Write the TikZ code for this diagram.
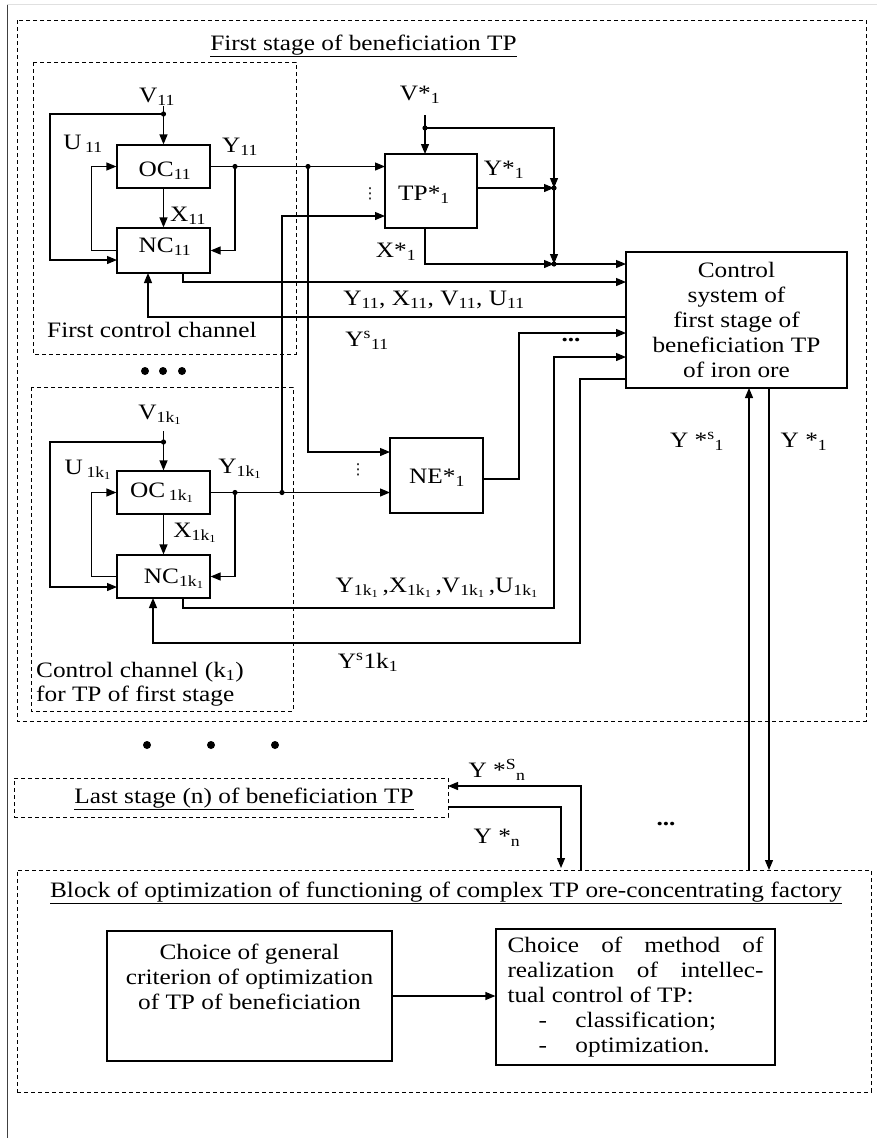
\documentclass[tikz,border=0pt]{standalone}
\usepackage{fontspec}
\setmainfont[FakeStretch=1.15]{Liberation Serif}
\newfontfamily\dvsans{DejaVu Sans}
\usetikzlibrary{arrows.meta,calc}
\newcommand{\sbs}[1]{\textsubscript{#1}}
\newcommand{\sps}[1]{\textsuperscript{#1}}
\newcommand{\kk}{\textsubscript{1k\textsubscript{1}}}
\begin{document}
\begin{tikzpicture}[x=1pt,y=-1pt,
  every node/.style={font=\fontsize{22}{25}\selectfont, inner sep=0pt},
  blk/.style={draw, line width=1.2pt},
  dbox/.style={draw, line width=1pt, dash pattern=on 4pt off 3pt},
  arr/.style={line width=1.2pt, -{Triangle[length=10pt,width=8pt]}},
  ln/.style={line width=1.2pt},
  lab/.style={anchor=base},
  vdot/.style={font=\dvsans\fontsize{15}{15}\selectfont},
]
\useasboundingbox (0,0) rectangle (877,1138);
% page lines
\draw[black!12, line width=1pt] (7,4.5) -- (877,4.5);
\draw[black!75, line width=1pt] (7,4.5) -- (7,1138);

% group frames
\draw[dbox] (17,20) rectangle (866,721);
\draw[dbox] (33,62) rectangle (296,354);
\draw[dbox] (31,387) rectangle (293,711);

% blocks
\node[blk, minimum width=93pt, minimum height=43pt] (oc1) at (163.5,166.5) {};
\node[blk, minimum width=93pt, minimum height=45pt] (nc1) at (163.5,250.5) {};
\node[blk, minimum width=93pt, minimum height=43pt] (oc2) at (163.5,492.5) {};
\node[blk, minimum width=93pt, minimum height=43pt] (nc2) at (163.5,576.5) {};
\node[blk, minimum width=92pt, minimum height=74pt] (tp) at (431,191) {};
\node[blk, minimum width=93pt, minimum height=75pt] (ne) at (436.5,475.5) {};
\node[blk, minimum width=221pt, minimum height=136pt, align=center] (cs) at (736.5,320)
  {Control\\system of\\first stage of\\beneficiation TP\\of iron ore};
\node[dbox, minimum width=434pt, minimum height=39pt] (ls) at (231,797.5) {};
\node[dbox, minimum width=854pt, minimum height=222pt] (bb) at (444,981) {};
\node[blk, minimum width=285pt, minimum height=130pt] (lc) at (249.5,996) {};
\node[blk, minimum width=279pt, minimum height=136pt, align=left] (rc) at (635.5,997)
  {\makebox[256pt][s]{Choice of method of}\\
   \makebox[256pt][s]{realization of intellec-}\\
   tual control of TP:\\
   \makebox[68pt][l]{\hspace*{31pt}-}classification;\\
   \makebox[68pt][l]{\hspace*{31pt}-}optimization.};

% box labels
\node[lab] (toc1) at (165,176) {OC\sbs{11}};
\node[lab] (tnc1) at (165,252) {NC\sbs{11}};
\node[lab] (toc2) at (162,497) {OC\,\kk};
\node[lab] (tnc2) at (174,583) {NC\kk};
\node[lab] (ttp) at (424,200) {TP*\sbs{1}};
\node[lab] (tne) at (437,483) {NE*\sbs{1}};
\node[align=center] (tlc) at (249.5,977) {Choice of general\\criterion of optimization\\of TP of beneficiation};

% titles
\node[lab] (title1) at (363.5,50) {\underline{First stage of beneficiation TP}};
\node[lab, anchor=base west] (tch1) at (47,337) {First control channel};
\node[lab, anchor=base west] (tch2a) at (36,677) {Control channel (k\sbs{1})};
\node[lab, anchor=base west] (tch2b) at (36,701) {for TP of first stage};
\node[lab] (tls) at (244,803) {\underline{Last stage (n) of beneficiation TP}};
\node[lab] (tbb) at (446,897) {\underline{Block of optimization of functioning of complex TP ore-concentrating factory}};

% signal labels
\node[lab] (lv11) at (157,102) {V\sbs{11}};
\node[lab] (lu11) at (83,149) {U\,\sbs{11}};
\node[lab] (ly11) at (240,152) {Y\sbs{11}};
\node[lab] (lx11) at (188,221) {X\sbs{11}};
\node[lab] (lvs) at (420,100) {V*\sbs{1}};
\node[lab] (lys) at (504,175) {Y*\sbs{1}};
\node[lab] (lxs) at (396,257) {X*\sbs{1}};
\node[lab] (ld1) at (434,305) {Y\sbs{11}, X\sbs{11}, V\sbs{11}, U\sbs{11}};
\node[lab] (lf1) at (367,346) {Y\sps{s}\sbs{11}};
\node[lab] (lv2) at (160,419) {V\kk};
\node[lab] (lu2) at (88,474) {U\,\kk};
\node[lab] (ly2) at (240,473) {Y\kk};
\node[lab] (lx2) at (195,537) {X\kk};
\node[lab] (ld2) at (437,592) {Y\kk\,,X\kk\,,V\kk\,,U\kk};
\node[lab] (lf2) at (368,668) {Y\sps{s}1k\sbs{1}};
\node[lab] (lyss) at (697,447) {Y *\sps{s}\sbs{1}};
\node[lab] (lyo) at (804,447) {Y *\sbs{1}};
\node[lab] (lysn) at (497,777) {Y *\sps{S}\sbs{n}};
\node[lab] (lyn) at (497,843) {Y *\sbs{n}};
\node (dd1) at (571,340) {\textbf{...}};
\node (dd2) at (666,824) {\textbf{...}};
\node[vdot] (vd1) at (370,194) {⋮};
\node[vdot] (vd2) at (358,470) {⋮};

% big dots
\foreach \xx in {145,163,182} \fill (\xx,371) circle[radius=4pt];
\foreach \xx in {147,211,275} \fill (\xx,745) circle[radius=4pt];

% coordinates
\coordinate (v1top) at (163.5,106);
\coordinate (j1) at (163.5,114);
\coordinate (j2) at (235,166.5);
\coordinate (j3) at (308,166.5);
\coordinate (tpin1) at (385,166.5);
\coordinate (tpin2) at (385,216);
\coordinate (nc1in) at (117,260);
\coordinate (d1s) at (183,273);
\coordinate (csin2) at (626,282);
\coordinate (csout1) at (626,317);
\coordinate (f1e) at (148,273);
\coordinate (vstop) at (425,115);
\coordinate (j4) at (425,128);
\coordinate (tptop) at (425,154);
\coordinate (j5) at (554,188);
\coordinate (tpout) at (477,188);
\coordinate (tpbot) at (425,228);
\coordinate (j6) at (554,264);
\coordinate (csin1) at (626,264);
\coordinate (nein1) at (390,452);
\coordinate (nein2) at (390,492.5);
\coordinate (j7) at (282,492.5);
\coordinate (j8) at (235,492.5);
\coordinate (neout) at (483,479);
\coordinate (csin3) at (626,333);
\coordinate (d2s) at (183,598);
\coordinate (csin4) at (626,357);
\coordinate (csout2) at (626,379);
\coordinate (f2e) at (153,598);
\coordinate (v2top) at (163.5,431);
\coordinate (j9) at (163.5,442);
\coordinate (nc2in) at (117,587);
\coordinate (csb1) at (749,388);
\coordinate (csb2) at (769,388);
\coordinate (bbt1) at (749,870);
\coordinate (bbt2) at (769,870);
\coordinate (bbt3) at (581,870);
\coordinate (bbt4) at (561,868);
\coordinate (lsin) at (448,786);
\coordinate (lsout) at (448,807);

% channel 1
\draw[arr] (v1top) -- (oc1.north);
\draw[arr] (j1) -- ++(-113.5,0) |- (nc1in);
\draw[arr] (nc1.west) -- ++(-25,0) |- (oc1.west);
\draw[arr] (oc1.south) -- (nc1.north);
\draw[arr] (oc1.east) -- (tpin1);
\draw[arr] (j2) |- (nc1.east);
\draw[arr] (j3) |- (nein1);
\draw[arr] (d1s) |- (csin2);
\draw[arr] (csout1) -| (f1e);
% TP
\draw[arr] (vstop) -- (tptop);
\draw[arr] (j4) -| (j5);
\draw[arr] (tpout) -- (j5);
\draw[arr] (j5) -- (j6);
\draw[arr] (tpbot) |- (j6);
\draw[arr] (j6) -- (csin1);
% NE and channel 2
\draw[arr] (j7) |- (tpin2);
\draw[arr] (oc2.east) -- (nein2);
\draw[arr] (neout) -- ++(36,0) |- (csin3);
\draw[arr] (d2s) -- ++(0,10) -| ++(371,-251) -- (csin4);
\draw[arr] (csout2) -- ++(-46,0) |- ++(-427,264) -- (f2e);
\draw[arr] (v2top) -- (oc2.north);
\draw[arr] (j9) -- ++(-113.5,0) |- (nc2in);
\draw[arr] (nc2.west) -- ++(-25,0) |- (oc2.west);
\draw[arr] (oc2.south) -- (nc2.north);
\draw[arr] (j8) |- (nc2.east);
% lower links
\draw[arr] (bbt1) -- (csb1);
\draw[arr] (csb2) -- (bbt2);
\draw[arr] (bbt3) |- (lsin);
\draw[arr] (lsout) -| (bbt4);
\draw[arr] (lc.east) -- (rc.west |- lc.east);

% junction dots
\foreach \p in {j1,j2,j3,j4,j5,j6,j7,j8,j9} \fill (\p) circle[radius=2.6pt];
\end{tikzpicture}
\end{document}
